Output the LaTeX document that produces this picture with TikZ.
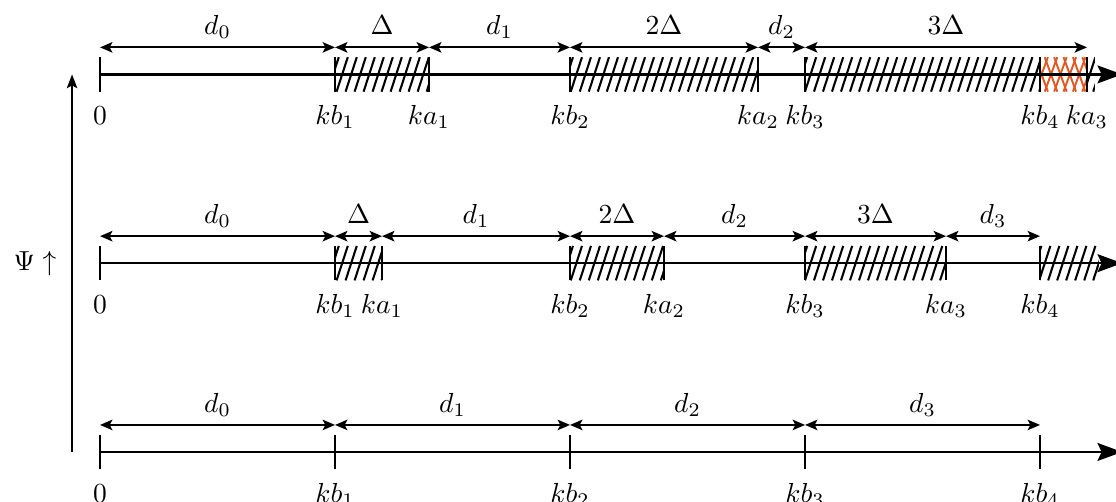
\documentclass[tikz,border=0pt]{standalone}
\usetikzlibrary{arrows.meta}
\definecolor{hatchorange}{RGB}{226,88,34}
\tikzset{
	axisline/.style={thick, -{Stealth[length=9pt, width=6.5pt, inset=1.5pt]}},
	tickline/.style={thick},
	dimline/.style={line width=0.7pt, {Stealth[length=4.5pt, width=3.8pt, inset=1pt]}-{Stealth[length=4.5pt, width=3.8pt, inset=1pt]}},
	dimlabel/.style={anchor=base, yshift=0.165cm, inner sep=0pt},
	ticklabel/.style={anchor=base, inner sep=0pt},
	hatchline/.style={line width=0.75pt},
	crossline/.style={line width=0.7pt, hatchorange}
}
% hatched band between #1 and #2 on the current line
\newcommand{\hatchband}[2]{%
	\begin{scope}
		\clip (#1, -0.22) rectangle (#2, 0.22);
		\foreach \s in {-0.2, -0.085, ..., 13}
			\draw[hatchline] (\s, -0.22) -- ++(0.143, 0.44);
	\end{scope}}
% orange cross-hatched band between #1 and #2
\newcommand{\crossband}[2]{%
	\begin{scope}
		\clip (#1, -0.22) rectangle (#2, 0.22);
		\fill[white] (#1, -0.22) rectangle (#2, 0.22);
		\foreach \s in {11.7, 11.82, ..., 12.9} {
			\draw[crossline] (\s, -0.22) -- ++(0.16, 0.44);
			\draw[crossline] (\s, 0.22) -- ++(0.16, -0.44);
		}
	\end{scope}}
\begin{document}
\begin{tikzpicture}
	\useasboundingbox (-1.277, -0.638) rectangle (12.97, 5.77);
	% top line
	\begin{scope}[yshift=4.82cm]
		\hatchband{3}{4.2}
		\hatchband{6}{8.4}
		\hatchband{9}{12.7}
		\crossband{12}{12.6}
		\draw[axisline] (0, 0) -- (13.05, 0);
		\foreach \x/\lab/\n in {0/0/o, 3/kb_1/b1, 4.2/ka_1/a1, 6/kb_2/b2, 8.4/ka_2/a2, 9/kb_3/b3, 12/kb_4/b4, 12.6/ka_3/a3} {
			\draw[tickline] (\x, -0.22) -- (\x, 0.22);
			\node[ticklabel] (T\n) at (\x, -0.64) {$\lab$};
			\coordinate (Tp\n) at (\x, 0.345);
		}
		\draw[dimline] (Tpo) -- node[dimlabel] (Td0) {$d_0$} (Tpb1);
		\draw[dimline] (Tpb1) -- node[dimlabel] (TD1) {$\Delta$} (Tpa1);
		\draw[dimline] (Tpa1) -- node[dimlabel] (Td1) {$d_1$} (Tpb2);
		\draw[dimline] (Tpb2) -- node[dimlabel] (TD2) {$2\Delta$} (Tpa2);
		\draw[dimline] (Tpa2) -- node[dimlabel] (Td2) {$d_2$} (Tpb3);
		\draw[dimline] (Tpb3) -- node[dimlabel] (TD3) {$3\Delta$} (Tpa3);
	\end{scope}
	% middle line
	\begin{scope}[yshift=2.41cm]
		\hatchband{3}{3.6}
		\hatchband{6}{7.2}
		\hatchband{9}{10.8}
		\hatchband{12}{12.75}
		\draw[axisline] (0, 0) -- (13.05, 0);
		\foreach \x/\lab/\n in {0/0/o, 3/kb_1/b1, 3.6/ka_1/a1, 6/kb_2/b2, 7.2/ka_2/a2, 9/kb_3/b3, 10.8/ka_3/a3, 12/kb_4/b4} {
			\draw[tickline] (\x, -0.22) -- (\x, 0.22);
			\node[ticklabel] (M\n) at (\x, -0.64) {$\lab$};
			\coordinate (Mp\n) at (\x, 0.345);
		}
		\draw[dimline] (Mpo) -- node[dimlabel] (Md0) {$d_0$} (Mpb1);
		\draw[dimline] (Mpb1) -- node[dimlabel] (MD1) {$\Delta$} (Mpa1);
		\draw[dimline] (Mpa1) -- node[dimlabel] (Md1) {$d_1$} (Mpb2);
		\draw[dimline] (Mpb2) -- node[dimlabel] (MD2) {$2\Delta$} (Mpa2);
		\draw[dimline] (Mpa2) -- node[dimlabel] (Md2) {$d_2$} (Mpb3);
		\draw[dimline] (Mpb3) -- node[dimlabel] (MD3) {$3\Delta$} (Mpa3);
		\draw[dimline] (Mpa3) -- node[dimlabel] (Md3) {$d_3$} (Mpb4);
	\end{scope}
	% bottom line
	\begin{scope}
		\draw[axisline] (0, 0) -- (13.05, 0);
		\foreach \x/\lab/\n in {0/0/o, 3/kb_1/b1, 6/kb_2/b2, 9/kb_3/b3, 12/kb_4/b4} {
			\draw[tickline] (\x, -0.22) -- (\x, 0.22);
			\node[ticklabel] (B\n) at (\x, -0.64) {$\lab$};
			\coordinate (Bp\n) at (\x, 0.345);
		}
		\draw[dimline] (Bpo) -- node[dimlabel] (Bd0) {$d_0$} (Bpb1);
		\draw[dimline] (Bpb1) -- node[dimlabel] (Bd1) {$d_1$} (Bpb2);
		\draw[dimline] (Bpb2) -- node[dimlabel] (Bd2) {$d_2$} (Bpb3);
		\draw[dimline] (Bpb3) -- node[dimlabel] (Bd3) {$d_3$} (Bpb4);
	\end{scope}
	% psi axis
	\coordinate (psilow) at (-0.357, 0);
	\coordinate (psihigh) at (-0.357, 4.82);
	\draw[line width=0.7pt, -{Stealth[length=5pt, width=3.8pt, inset=1pt]}] (psilow) -- (psihigh);
	\node (psi) at (-0.83, 2.41) {$\Psi\uparrow$};
\end{tikzpicture}
\end{document}
